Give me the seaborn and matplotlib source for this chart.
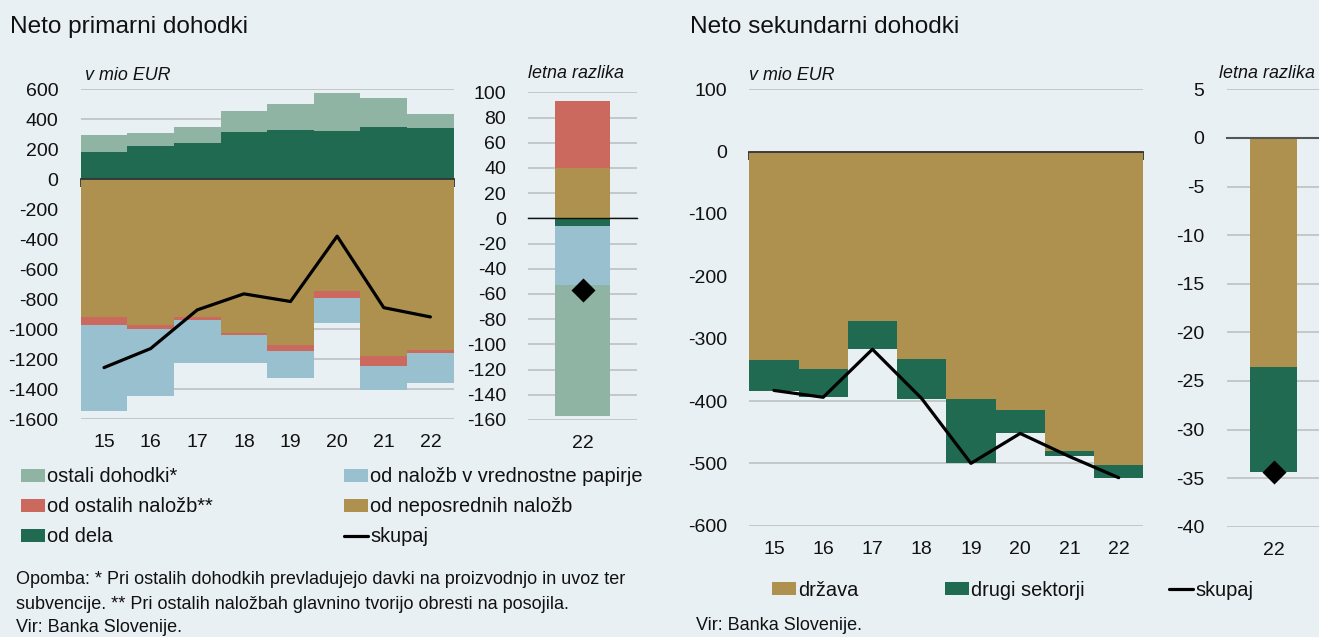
import numpy as np
import matplotlib
matplotlib.use("Agg")
import matplotlib.pyplot as plt
import seaborn as sns
from matplotlib.patches import Patch
from matplotlib.lines import Line2D
from matplotlib.ticker import FixedLocator

# ---------------- data ----------------
years = ["15", "16", "17", "18", "19", "20", "21", "22"]
prim_od_dela = [180, 220, 242, 316, 331, 323, 347, 343]
prim_ostali = [116, 87, 109, 140, 174, 249, 194, 89]
prim_neposredne = [-917, -970, -917, -1023, -1106, -745, -1177, -1139]
prim_ostale_nal = [-57, -29, -24, -18, -40, -49, -71, -20]
prim_vp = [-572, -447, -285, -185, -178, -163, -160, -198]
prim_skupaj = [-1257, -1130, -872, -765, -816, -380, -857, -919]

diff_year = ["22"]
prim_diff_neposredne = [40]
prim_diff_ostale_nal = [53]
prim_diff_od_dela = [-6]
prim_diff_vp = [-47]
prim_diff_ostali = [-104]
prim_diff_skupaj = [-57]

sek_drzava = [-335, -348, -272, -332, -397, -414, -480, -503]
sek_drugi = [-49, -46, -45, -64, -103, -38, -9, -20]
sek_skupaj = [-383, -394, -317, -396, -500, -452, -489, -523]

sek_diff_drzava = [-23.6]
sek_diff_drugi = [-10.8]
sek_diff_skupaj = [-34.4]

# ---------------- style ----------------
C_OSTALI = "#8fb4a4"
C_VP = "#98c0cf"
C_OSTALE_NAL = "#cc695e"
C_NEPOSR = "#ae914e"
C_DELA = "#1f6a51"
BG = "#e9f0f4"
GRID = "#c2c4c6"

sns.set_theme(style="white")
plt.rcParams["font.family"] = ["Liberation Sans", "DejaVu Sans"]

W, H = 1319, 637
fig = plt.figure(figsize=(W / 100, H / 100), dpi=100)
fig.patch.set_facecolor(BG)


def px_axes(x0, y0, x1, y1):
    return fig.add_axes([x0 / W, 1 - y1 / H, (x1 - x0) / W, (y1 - y0) / H])


def stacked(ax, cats, pos_layers, neg_layers, width):
    for layers in (pos_layers, neg_layers):
        cum = np.zeros(len(cats))
        cums = []
        for vals, col in layers:
            cum = cum + np.asarray(vals, float)
            cums.append((cum.copy(), col))
        for vals, col in reversed(cums):
            sns.barplot(x=cats, y=vals, color=col, width=width, saturation=1,
                        linewidth=0, errorbar=None, ax=ax)


def style_axes(ax, n, ylim, yticks, zero_ticks, zero_color="#333333", zero_lw=1.3):
    ax.set_facecolor(BG)
    ax.set_xlim(-0.5, n - 0.5)
    ax.set_ylim(*ylim)
    ax.set_yticks(yticks)
    ax.set_yticklabels([str(t) for t in yticks])
    ax.set_xlabel("")
    ax.set_ylabel("")
    ax.set_axisbelow(True)
    ax.yaxis.grid(True, color=GRID, lw=1.3)
    ax.xaxis.grid(False)
    for s in ("left", "right", "bottom"):
        ax.spines[s].set_visible(False)
    ax.spines["top"].set_visible(True)
    ax.spines["top"].set_position(("data", 0))
    ax.spines["top"].set_color(zero_color)
    ax.spines["top"].set_linewidth(zero_lw)
    ax.tick_params(axis="y", length=0, pad=16, labelsize=14, colors="#111111")
    ax.tick_params(axis="x", which="major", length=0, pad=11, labelsize=14,
                   colors="#111111", top=False, bottom=False,
                   labeltop=False, labelbottom=True)
    if zero_ticks:
        ax.xaxis.set_minor_locator(FixedLocator(np.arange(n + 1) - 0.5))
        ax.tick_params(axis="x", which="minor", top=True, bottom=False,
                       direction="in", length=6, width=1.3, color=zero_color)


# ---------------- left main ----------------
ax1 = px_axes(80.7, 89.3, 453.7, 419)
stacked(ax1, years,
        [(prim_od_dela, C_DELA), (prim_ostali, C_OSTALI)],
        [(prim_neposredne, C_NEPOSR), (prim_ostale_nal, C_OSTALE_NAL), (prim_vp, C_VP)],
        width=1.0)
sns.lineplot(x=years, y=prim_skupaj, color="black", lw=2.3, sort=False, ax=ax1)
style_axes(ax1, len(years), (-1600, 600), list(range(600, -1601, -200)), True)

# ---------------- left small ----------------
ax2 = px_axes(528.3, 92.3, 636.7, 420)
stacked(ax2, diff_year,
        [(prim_diff_neposredne, C_NEPOSR), (prim_diff_ostale_nal, C_OSTALE_NAL)],
        [(prim_diff_od_dela, C_DELA), (prim_diff_vp, C_VP), (prim_diff_ostali, C_OSTALI)],
        width=0.5)
sns.scatterplot(x=diff_year, y=prim_diff_skupaj, marker="D", s=150, color="black",
                linewidth=0, ax=ax2, zorder=5)
style_axes(ax2, 1, (-160, 100), list(range(100, -161, -20)), False,
           zero_color="#111111", zero_lw=1.0)

# ---------------- right main ----------------
ax3 = px_axes(749.3, 89.3, 1143.3, 525.7)
stacked(ax3, years, [], [(sek_drzava, C_NEPOSR), (sek_drugi, C_DELA)], width=1.0)
sns.lineplot(x=years, y=sek_skupaj, color="black", lw=2.3, sort=False, ax=ax3)
style_axes(ax3, len(years), (-600, 100), list(range(100, -601, -100)), True)

# ---------------- right small ----------------
ax4 = px_axes(1226.7, 89.3, 1321, 526.7)
stacked(ax4, diff_year, [], [(sek_diff_drzava, C_NEPOSR), (sek_diff_drugi, C_DELA)], width=0.5)
sns.scatterplot(x=diff_year, y=sek_diff_skupaj, marker="D", s=150, color="black",
                linewidth=0, ax=ax4, zorder=5)
style_axes(ax4, 1, (-40, 5), list(range(5, -41, -5)), False,
           zero_color="#555555", zero_lw=1.5)

for ax in (ax1, ax2, ax3, ax4):
    if ax.get_legend() is not None:
        ax.get_legend().remove()

# ---------------- texts ----------------
def ftext(x, y, s, **kw):
    fig.text(x / W, 1 - y / H, s, va="baseline", ha="left", color="#111111", **kw)

ftext(10, 33.3, "Neto primarni dohodki", fontsize=17.6)
ftext(690, 33.3, "Neto sekundarni dohodki", fontsize=17.6)
ftext(85, 79.5, "v mio EUR", fontsize=12.9, style="italic")
ftext(749.3, 79.5, "v mio EUR", fontsize=12.9, style="italic")
ftext(528.3, 78.5, "letna razlika", fontsize=12.9, style="italic")
ftext(1219, 78.5, "letna razlika", fontsize=12.9, style="italic")

ftext(16, 584.5, "Opomba: * Pri ostalih dohodkih prevladujejo davki na proizvodnjo in uvoz ter", fontsize=13)
ftext(16, 609, "subvencije. ** Pri ostalih naložbah glavnino tvorijo obresti na posojila.", fontsize=13)
ftext(16, 632.5, "Vir: Banka Slovenije.", fontsize=13)
ftext(695.5, 630, "Vir: Banka Slovenije.", fontsize=13)


# ---------------- legends ----------------
def legend_entry(x, y, handle, label):
    leg = fig.legend(handles=[handle], labels=[label], loc="center left",
                     bbox_to_anchor=(x / W, 1 - y / H), frameon=False,
                     fontsize=14.4, borderpad=0, borderaxespad=0,
                     handlelength=1.2, handleheight=0.6, handletextpad=0.12)
    for t in leg.get_texts():
        t.set_color("#111111")
    return leg


legend_entry(21, 477, Patch(facecolor=C_OSTALI, lw=0), "ostali dohodki*")
legend_entry(21, 507, Patch(facecolor=C_OSTALE_NAL, lw=0), "od ostalih naložb**")
legend_entry(21, 537, Patch(facecolor=C_DELA, lw=0), "od dela")
legend_entry(344, 477, Patch(facecolor=C_VP, lw=0), "od naložb v vrednostne papirje")
legend_entry(344, 507, Patch(facecolor=C_NEPOSR, lw=0), "od neposrednih naložb")
legend_entry(344, 537, Line2D([], [], color="black", lw=2.3), "skupaj")

legend_entry(772, 590, Patch(facecolor=C_NEPOSR, lw=0), "država")
legend_entry(945, 590, Patch(facecolor=C_DELA, lw=0), "drugi sektorji")
legend_entry(1169, 590, Line2D([], [], color="black", lw=2.3), "skupaj")

fig.savefig("out.png", dpi=100, facecolor=BG)
